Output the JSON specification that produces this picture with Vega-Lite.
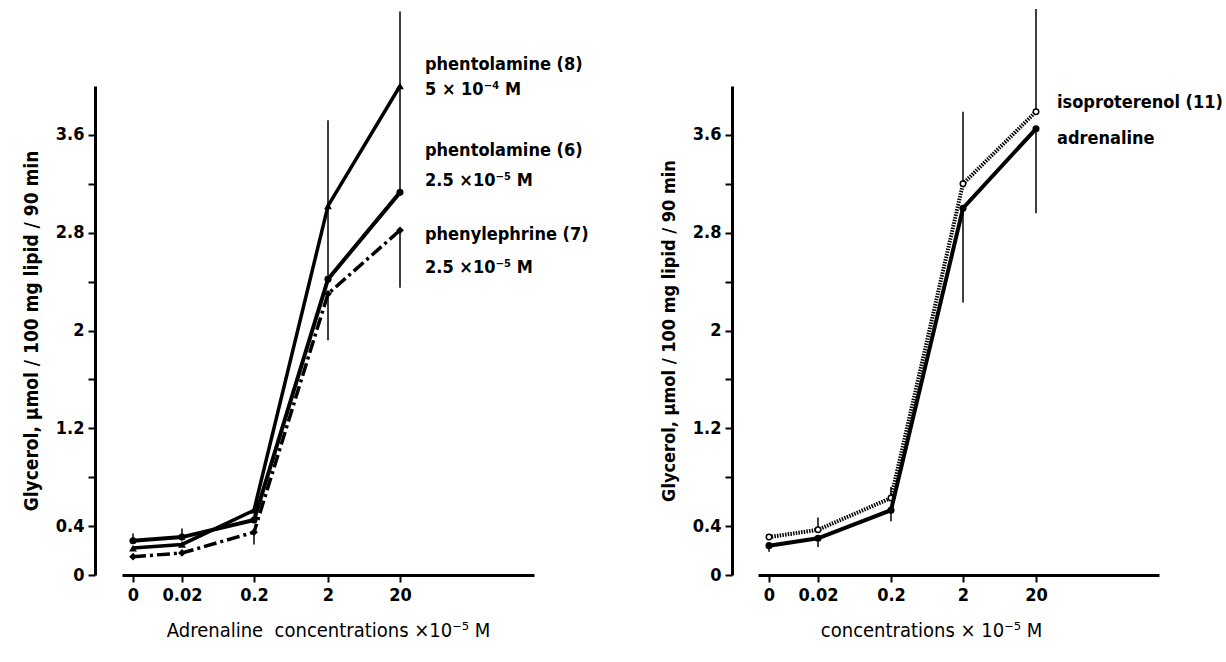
{
  "$schema": "https://vega.github.io/schema/vega-lite/v6.json",
  "background": "white",
  "padding": {"left": 22, "top": 8, "right": 5, "bottom": 5},
  "spacing": 71,
  "config": {
    "view": {"stroke": null},
    "font": "'DejaVu Sans Condensed', Roboto, sans-serif",
    "axis": {
      "labelFont": "'DejaVu Sans Condensed', Roboto, sans-serif",
      "titleFont": "'DejaVu Sans Condensed', Roboto, sans-serif",
      "labelColor": "black",
      "titleColor": "black",
      "domainColor": "black",
      "tickColor": "black",
      "grid": false,
      "labelFontWeight": "bold",
      "labelFontSize": 18
    }
  },
  "datasets": {
    "left": [
      {"series": "phentolamine (8)", "conc": 0, "glycerol": 0.22},
      {"series": "phentolamine (8)", "conc": 0.02, "glycerol": 0.25},
      {"series": "phentolamine (8)", "conc": 0.2, "glycerol": 0.53},
      {"series": "phentolamine (8)", "conc": 2, "glycerol": 3.02},
      {"series": "phentolamine (8)", "conc": 20, "glycerol": 4.0},
      {"series": "phentolamine (6)", "conc": 0, "glycerol": 0.28},
      {"series": "phentolamine (6)", "conc": 0.02, "glycerol": 0.31},
      {"series": "phentolamine (6)", "conc": 0.2, "glycerol": 0.45},
      {"series": "phentolamine (6)", "conc": 2, "glycerol": 2.42},
      {"series": "phentolamine (6)", "conc": 20, "glycerol": 3.13},
      {"series": "phenylephrine (7)", "conc": 0, "glycerol": 0.15},
      {"series": "phenylephrine (7)", "conc": 0.02, "glycerol": 0.18},
      {"series": "phenylephrine (7)", "conc": 0.2, "glycerol": 0.35},
      {"series": "phenylephrine (7)", "conc": 2, "glycerol": 2.3},
      {"series": "phenylephrine (7)", "conc": 20, "glycerol": 2.82}
    ],
    "leftErr": [
      {"series": "phentolamine (8)", "conc": 2, "lo": 2.45, "hi": 3.72},
      {"series": "phentolamine (8)", "conc": 20, "lo": 3.13, "hi": 4.61},
      {"series": "phenylephrine (7)", "conc": 2, "lo": 1.92, "hi": 2.3},
      {"series": "phenylephrine (7)", "conc": 20, "lo": 2.35, "hi": 2.82},
      {"series": "phentolamine (6)", "conc": 0, "lo": 0.28, "hi": 0.34},
      {"series": "phentolamine (6)", "conc": 0.02, "lo": 0.31, "hi": 0.38},
      {"series": "phenylephrine (7)", "conc": 0.2, "lo": 0.25, "hi": 0.35}
    ],
    "leftLabels": [
      {"text": "phentolamine (8)", "conc": 20, "glycerol": 4.17},
      {"text": " 5 × 10⁻⁴ M", "conc": 20, "glycerol": 3.97},
      {"text": "phentolamine (6)", "conc": 20, "glycerol": 3.47},
      {"text": "2.5 ×10⁻⁵ M", "conc": 20, "glycerol": 3.22},
      {"text": "phenylephrine (7)", "conc": 20, "glycerol": 2.78},
      {"text": "2.5 ×10⁻⁵ M", "conc": 20, "glycerol": 2.51}
    ],
    "right": [
      {"series": "isoproterenol (11)", "conc": 0, "glycerol": 0.31},
      {"series": "isoproterenol (11)", "conc": 0.02, "glycerol": 0.37},
      {"series": "isoproterenol (11)", "conc": 0.2, "glycerol": 0.63},
      {"series": "isoproterenol (11)", "conc": 2, "glycerol": 3.2},
      {"series": "isoproterenol (11)", "conc": 20, "glycerol": 3.79},
      {"series": "adrenaline", "conc": 0, "glycerol": 0.24},
      {"series": "adrenaline", "conc": 0.02, "glycerol": 0.3},
      {"series": "adrenaline", "conc": 0.2, "glycerol": 0.53},
      {"series": "adrenaline", "conc": 2, "glycerol": 3.0},
      {"series": "adrenaline", "conc": 20, "glycerol": 3.65}
    ],
    "rightErr": [
      {"series": "isoproterenol (11)", "conc": 2, "lo": 3.2, "hi": 3.79},
      {"series": "adrenaline", "conc": 2, "lo": 2.23, "hi": 3.0},
      {"series": "isoproterenol (11)", "conc": 20, "lo": 3.79, "hi": 4.63},
      {"series": "adrenaline", "conc": 20, "lo": 2.96, "hi": 3.65},
      {"series": "adrenaline", "conc": 0, "lo": 0.19, "hi": 0.24},
      {"series": "isoproterenol (11)", "conc": 0.02, "lo": 0.37, "hi": 0.47},
      {"series": "adrenaline", "conc": 0.02, "lo": 0.23, "hi": 0.3},
      {"series": "isoproterenol (11)", "conc": 0.2, "lo": 0.63, "hi": 0.72},
      {"series": "adrenaline", "conc": 0.2, "lo": 0.44, "hi": 0.53}
    ],
    "rightLabels": [
      {"text": "isoproterenol (11)", "conc": 20, "glycerol": 3.86},
      {"text": "adrenaline", "conc": 20, "glycerol": 3.57}
    ]
  },
  "hconcat": [
    {
      "width": 412,
      "height": 489,
      "encoding": {
        "x": {
          "field": "conc", "type": "quantitative",
          "scale": {"type": "linear", "domain": [-0.005, 0, 0.02, 0.2, 2, 20, 200], "range": [0, 11, 60, 132, 206, 278, 412], "nice": false, "zero": false},
          "axis": {"values": [0, 0.02, 0.2, 2, 20], "format": ".2~f", "domain": true, "domainWidth": 3, "tickSize": 7, "tickWidth": 2, "labelPadding": 4, "title": "Adrenaline\u00a0 concentrations \u00d710\u207b\u2075 M", "titleFontSize": 20, "titleFontWeight": "normal", "titlePadding": 16}
        },
        "y": {
          "field": "glycerol", "type": "quantitative",
          "scale": {"domain": [0, 4], "nice": false, "zero": true},
          "axis": {"values": [0, 0.4, 0.8, 1.2, 1.6, 2, 2.4, 2.8, 3.2, 3.6], "format": ".1~f", "labelExpr": "indexof([0.8,1.6,2.4,3.2], datum.value) >= 0 ? '' : datum.label", "offset": 27, "domainWidth": 3, "tickSize": 7, "tickWidth": 2, "labelPadding": 4, "title": "Glycerol, μmol / 100 mg lipid / 90 min", "titleFontSize": 19, "titleFontWeight": "bold", "titlePadding": 14}
        }
      },
      "layer": [
        {"data": {"name": "leftErr"}, "mark": {"type": "rule", "stroke": "black", "strokeWidth": 1.5},
         "encoding": {"y": {"field": "lo", "type": "quantitative"}, "y2": {"field": "hi"}}},
        {"data": {"name": "left"}, "transform": [{"filter": "datum.series == 'phentolamine (8)'"}],
         "mark": {"type": "line", "stroke": "black", "strokeWidth": 3.5, "point": {"shape": "triangle-up", "filled": true, "fill": "black", "size": 60}}},
        {"data": {"name": "left"}, "transform": [{"filter": "datum.series == 'phentolamine (6)'"}],
         "mark": {"type": "line", "stroke": "black", "strokeWidth": 4, "point": {"shape": "circle", "filled": true, "fill": "black", "size": 50}}},
        {"data": {"name": "left"}, "transform": [{"filter": "datum.series == 'phenylephrine (7)'"}],
         "mark": {"type": "line", "stroke": "black", "strokeWidth": 3.5, "strokeDash": [13, 4, 3, 4], "point": {"shape": "diamond", "filled": true, "fill": "black", "size": 60}}},
        {"data": {"name": "leftLabels"}, "mark": {"type": "text", "align": "left", "baseline": "middle", "dx": 25, "font": "'DejaVu Sans Condensed', Roboto, sans-serif", "fontWeight": "bold", "fontSize": 18, "fill": "black"},
         "encoding": {"text": {"field": "text"}}}
      ]
    },
    {
      "width": 401,
      "height": 489,
      "encoding": {
        "x": {
          "field": "conc", "type": "quantitative",
          "scale": {"type": "linear", "domain": [-0.005, 0, 0.02, 0.2, 2, 20, 200], "range": [0, 11, 60, 133, 205, 278, 401], "nice": false, "zero": false},
          "axis": {"values": [0, 0.02, 0.2, 2, 20], "format": ".2~f", "domain": true, "domainWidth": 3, "tickSize": 7, "tickWidth": 2, "labelPadding": 4, "title": "concentrations \u00d7 10\u207b\u2075 M", "titleFontSize": 20, "titleFontWeight": "normal", "titlePadding": 16, "titleX": 173, "titleAlign": "center"}
        },
        "y": {
          "field": "glycerol", "type": "quantitative",
          "scale": {"domain": [0, 4], "nice": false, "zero": true},
          "axis": {"values": [0, 0.4, 0.8, 1.2, 1.6, 2, 2.4, 2.8, 3.2, 3.6], "format": ".1~f", "labelExpr": "indexof([0.8,1.6,2.4,3.2], datum.value) >= 0 ? '' : datum.label", "offset": 26, "domainWidth": 3, "tickSize": 7, "tickWidth": 2, "labelPadding": 4, "title": "Glycerol, μmol / 100 mg lipid / 90 min", "titleFontSize": 18, "titleFontWeight": "bold", "titlePadding": 14}
        }
      },
      "layer": [
        {"data": {"name": "rightErr"}, "mark": {"type": "rule", "stroke": "black", "strokeWidth": 1.5},
         "encoding": {"y": {"field": "lo", "type": "quantitative"}, "y2": {"field": "hi"}}},
        {"data": {"name": "right"}, "transform": [{"filter": "datum.series == 'isoproterenol (11)'"}],
         "mark": {"type": "line", "stroke": "black", "strokeWidth": 4, "strokeDash": [1.5, 1.2], "point": {"shape": "circle", "filled": true, "fill": "white", "stroke": "black", "strokeWidth": 1.5, "size": 30}}},
        {"data": {"name": "right"}, "transform": [{"filter": "datum.series == 'adrenaline'"}],
         "mark": {"type": "line", "stroke": "black", "strokeWidth": 4, "point": {"shape": "circle", "filled": true, "fill": "black", "size": 50}}},
        {"data": {"name": "rightLabels"}, "mark": {"type": "text", "align": "left", "baseline": "middle", "dx": 21, "font": "'DejaVu Sans Condensed', Roboto, sans-serif", "fontWeight": "bold", "fontSize": 18, "fill": "black"},
         "encoding": {"text": {"field": "text"}}}
      ]
    }
  ]
}
